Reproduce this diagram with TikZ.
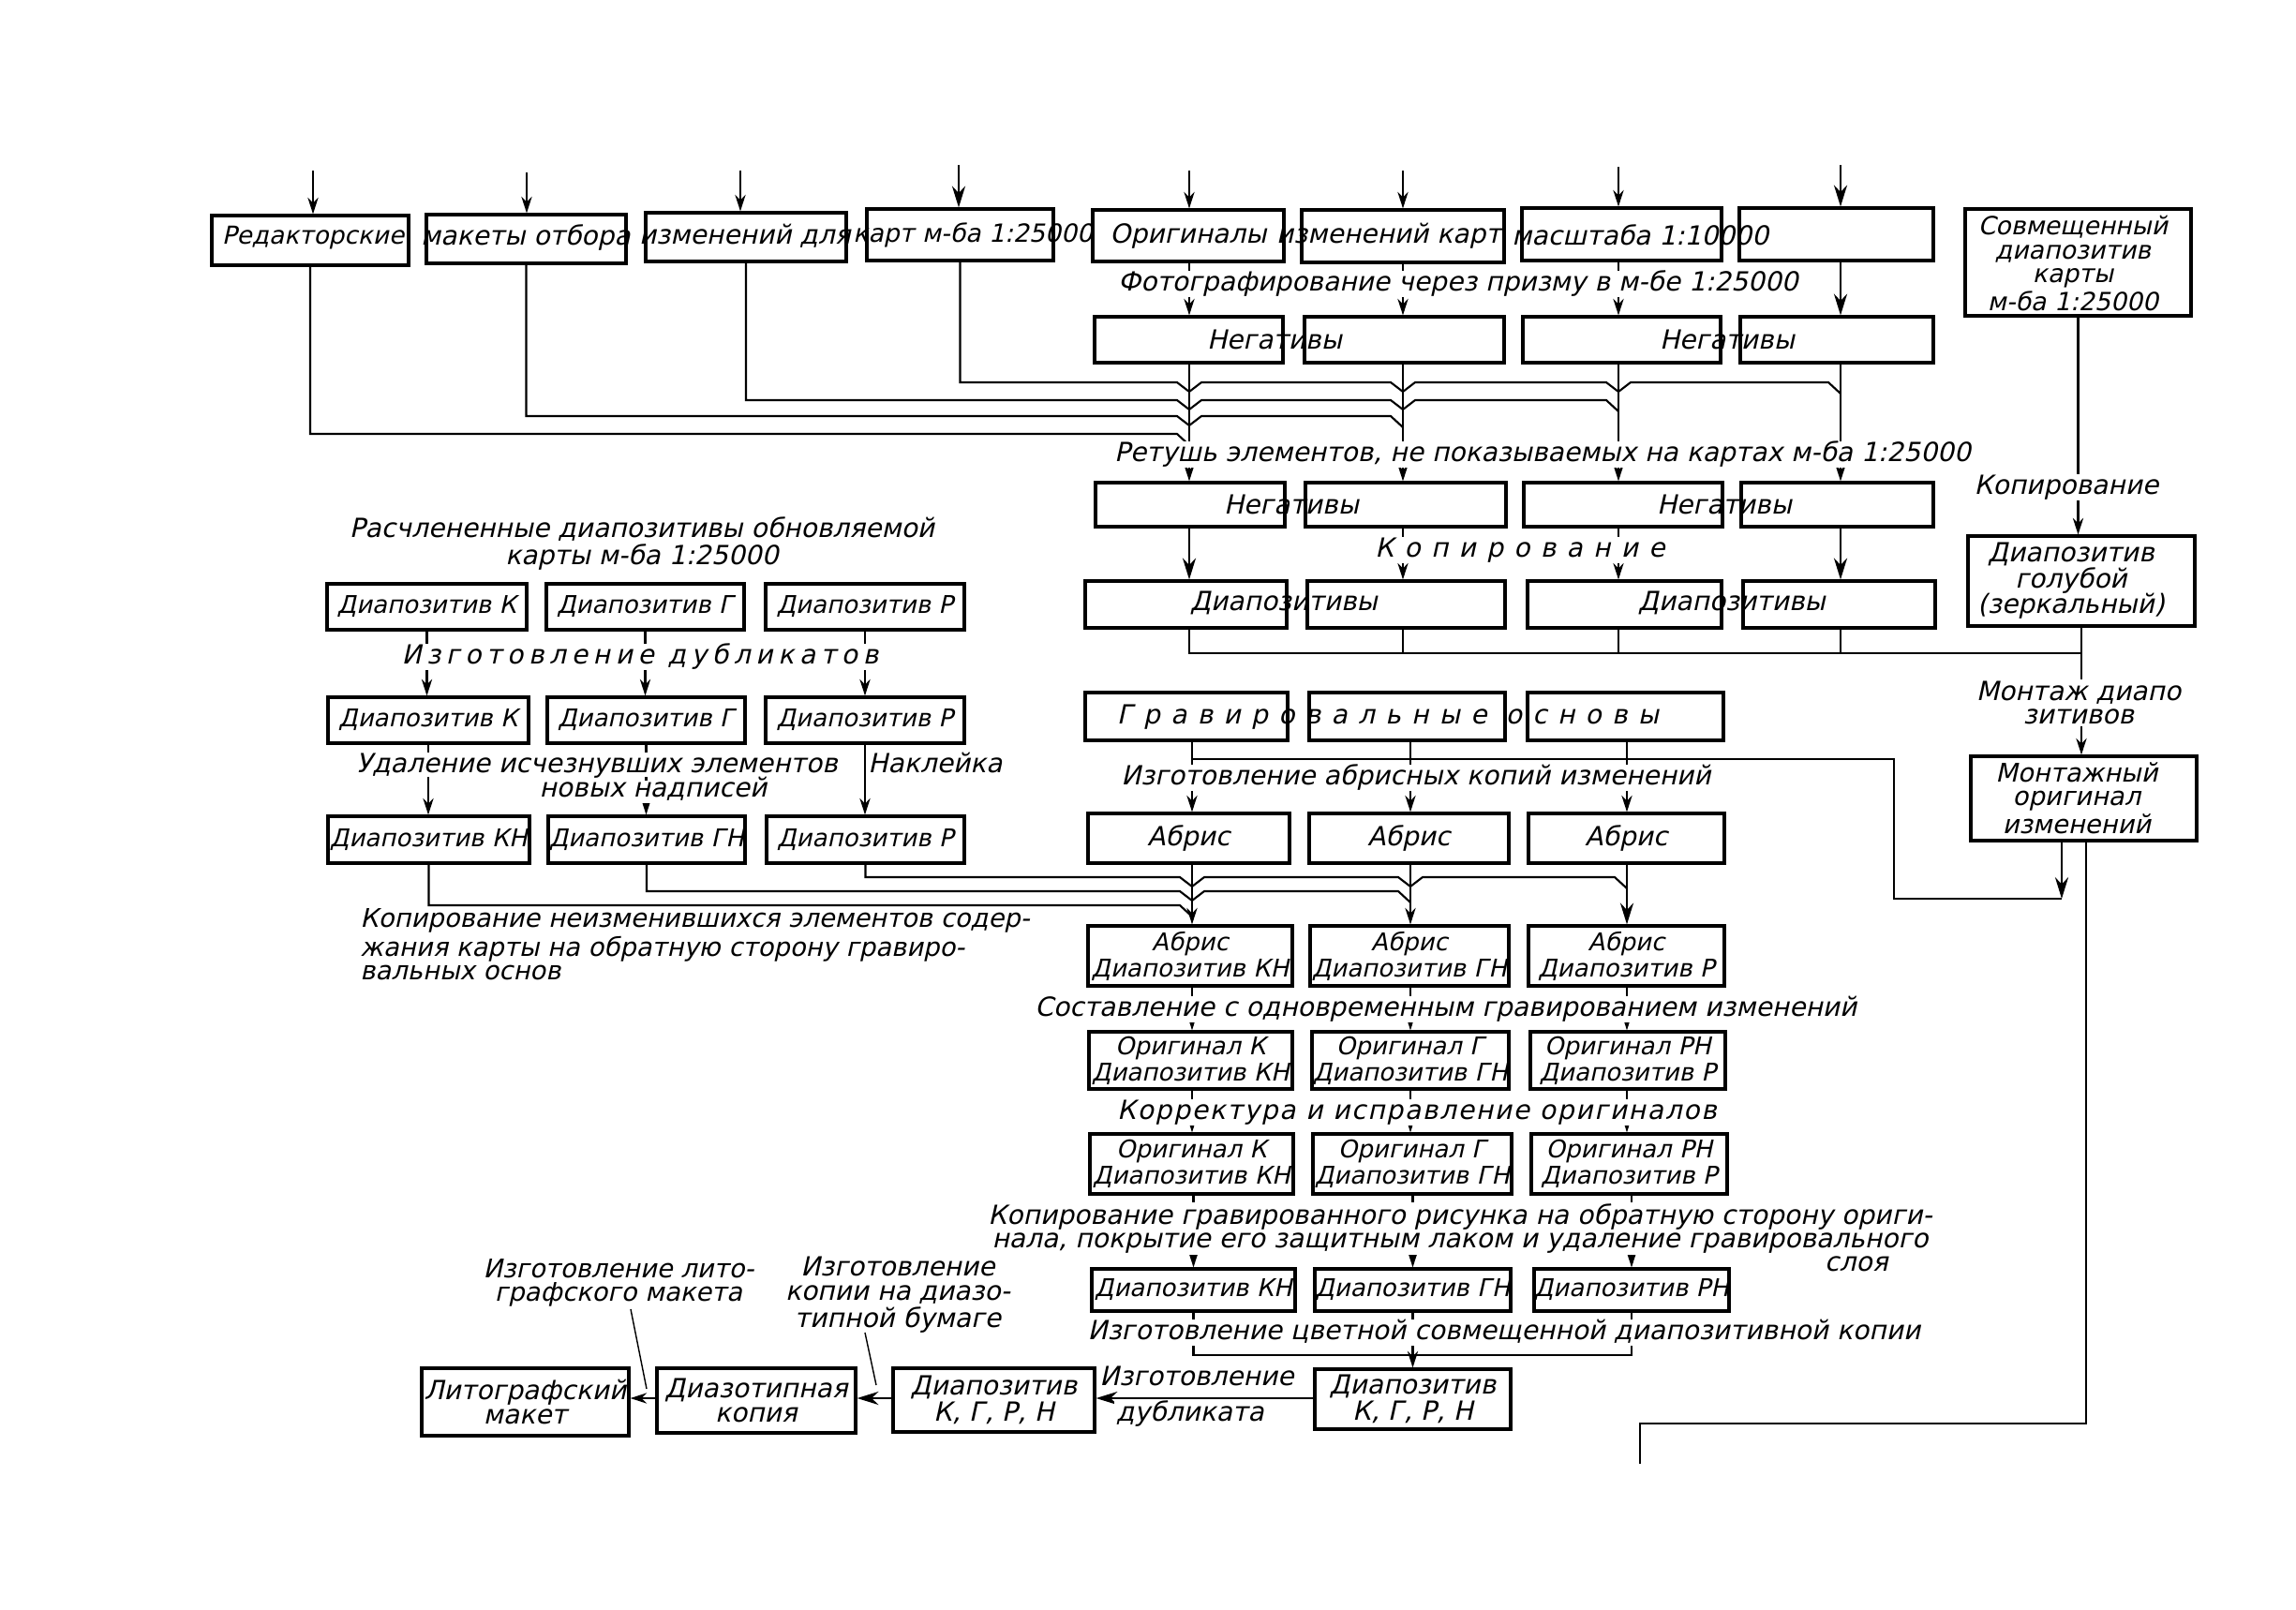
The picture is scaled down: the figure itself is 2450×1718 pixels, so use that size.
\documentclass[tikz,border=0pt]{standalone}
\usepackage{fontspec}
\newfontfamily\gost{DejaVu Sans}[FakeSlant=0.22]
\newfontfamily\gostS{DejaVu Sans}[FakeSlant=0.22,LetterSpace=40]
\newfontfamily\gostD{DejaVu Sans}[FakeSlant=0.22,LetterSpace=20]
\newfontfamily\gostK{DejaVu Sans}[FakeSlant=0.22,LetterSpace=6]
\usetikzlibrary{arrows.meta,fit}
\newcommand\mkbox[5]{\node[box, fit={(#2,#3) (#4,#5)}] (#1) {};}
\newcommand\mergeline[4]{%
  \coordinate (mtmp) at (0,#2);
  \draw[conn] (#1) -- (#1 |- mtmp) \foreach \xx in {#3} { -- (\xx-13,#2) -- (\xx,#2+10) -- (\xx+13,#2) } -- (#4-13,#2) -- (#4,#2+12);}
\newcommand\mlend[3]{%
  \coordinate (mtmp) at (0,#2);
  \draw[conn] (#1) -- (#1 |- mtmp) -- (#3-13,#2) -- (#3,#2+12);}
\begin{document}
\begin{tikzpicture}[x=0.01cm,y=-0.01cm,
  box/.style={draw, line width=0.9pt, inner sep=0pt},
  txt/.style={font=\gost\fontsize{8}{9}\selectfont, inner sep=0.5pt, align=center},
  btxt/.style={txt, font=\gost\fontsize{7.4}{6.9}\selectfont},
  lbl/.style={txt, fill=white, text height=5.6pt, text depth=1.3pt},
  conn/.style={line width=0.6pt, line join=miter},
  arr/.style={conn, -{Stealth[length=5pt,width=3.2pt]}},
  barr/.style={line width=0.8pt, -{Stealth[length=6.5pt,width=4pt]}}]
\useasboundingbox (0,0) rectangle (2450,1718);

\def\ca{1269}\def\cb{1497}\def\cc{1727}\def\cd{1964}
\def\da{1272}\def\db{1505}\def\dc{1736}
\coordinate (c1) at (\ca,0); \coordinate (c2) at (\cb,0);
\coordinate (c3) at (\cc,0); \coordinate (c4) at (\cd,0);
\coordinate (d1) at (\da,0); \coordinate (d2) at (\db,0); \coordinate (d3) at (\dc,0);

% ---------- row 1
\mkbox{B1}{226}{230}{436}{283}
\mkbox{B2}{455}{229}{668}{281}
\mkbox{B3}{689}{227}{903}{279}
\mkbox{B4}{925}{223}{1124}{278}
\mkbox{B5}{1166}{224}{1370}{279}
\mkbox{B6}{1389}{224}{1605}{280}
\mkbox{B7}{1624}{222}{1837}{278}
\mkbox{B8}{1856}{222}{2063}{278}
\mkbox{B9}{2097}{223}{2338}{337}

\node[txt, font=\gost\fontsize{7.5}{9}\selectfont] (tB1) at (334,254) {Редакторские};
\node[txt] (tB2) at (561,253) {макеты отбора};
\node[txt] (tB3) at (795,252) {изменений для};
\node[txt,anchor=west, font=\gost\fontsize{7.6}{9}\selectfont] (tB4) at (908,251) {карт м-ба 1:25000};
\node[txt] (tB5) at (1268,252) {Оригиналы};
\node[txt] (tB6) at (1482,252) {изменений карт};
\node[txt,anchor=west] (tB7) at (1611,251) {масштаба 1:10000};
\node[txt, font=\gost\fontsize{7.6}{7.2}\selectfont] (tB9) at (2212,281) {Совмещенный\\диапозитив\\карты\\м-ба 1:25000};

\coordinate (i1) at (334,182); \draw[arr] (i1) -- (i1 |- B1.north);
\coordinate (i2) at (562,184); \draw[arr] (i2) -- (i2 |- B2.north);
\coordinate (i3) at (790,182); \draw[arr] (i3) -- (i3 |- B3.north);
\coordinate (i4) at (1023,176); \draw[barr] (i4) -- (i4 |- B4.north);
\coordinate (i5) at (\ca,182); \draw[arr] (i5) -- (i5 |- B5.north);
\coordinate (i6) at (\cb,182); \draw[arr] (i6) -- (i6 |- B6.north);
\coordinate (i7) at (\cc,178); \draw[arr] (i7) -- (i7 |- B7.north);
\coordinate (i8) at (\cd,176); \draw[barr] (i8) -- (i8 |- B8.north);

% ---------- row 2 negatives
\mkbox{N1}{1168}{338}{1369}{387}
\mkbox{N2}{1392}{338}{1605}{387}
\mkbox{N3}{1625}{338}{1836}{387}
\mkbox{N4}{1857}{338}{2063}{387}
\node[txt] (tN1) at (1360,362) {Негативы};
\node[txt] (tN2) at (1843,362) {Негативы};
\draw[arr] (B5.south -| c1) -- (N1.north -| c1);
\draw[arr] (B6.south -| c2) -- (N2.north -| c2);
\draw[arr] (B7.south -| c3) -- (N3.north -| c3);
\draw[barr] (B8.south -| c4) -- (N4.north -| c4);

% ---------- row 3 negatives
\mkbox{R1}{1169}{515}{1371}{562}
\mkbox{R2}{1393}{515}{1607}{562}
\mkbox{R3}{1626}{515}{1838}{562}
\mkbox{R4}{1858}{515}{2063}{562}
\node[txt] (tR1) at (1378,538) {Негативы};
\node[txt] (tR2) at (1840,538) {Негативы};
\draw[arr] (N1.south -| c1) -- (R1.north -| c1);
\draw[arr] (N2.south -| c2) -- (R2.north -| c2);
\draw[arr] (N3.south -| c3) -- (R3.north -| c3);
\draw[arr] (N4.south -| c4) -- (R4.north -| c4);

\mergeline{B4.south}{408}{\ca,\cb,\cc}{\cd}
\mergeline{B3.south}{427}{\ca,\cb}{\cc}
\mergeline{B2.south}{444}{\ca}{\cb}
\mlend{B1.south}{463}{\ca}

% ---------- row 4 diapositives
\mkbox{D1}{1158}{620}{1373}{670}
\mkbox{D2}{1395}{620}{1606}{670}
\mkbox{D3}{1630}{620}{1837}{670}
\mkbox{D4}{1860}{620}{2065}{670}
\node[txt] (tD1) at (1370,643) {Диапозитивы};
\node[txt] (tD2) at (1848,643) {Диапозитивы};
\draw[barr] (R1.south -| c1) -- (D1.north -| c1);
\draw[arr] (R2.south -| c2) -- (D2.north -| c2);
\draw[arr] (R3.south -| c3) -- (D3.north -| c3);
\draw[barr] (R4.south -| c4) -- (D4.north -| c4);

% ---------- right column
\mkbox{DG}{2100}{572}{2342}{668}
\node[txt, font=\gost\fontsize{8}{7.8}\selectfont] (tDG) at (2210,620) {Диапозитив\\голубой\\(зеркальный)};
\mkbox{MO}{2103}{807}{2344}{897}
\node[txt, font=\gost\fontsize{7.8}{7.2}\selectfont] (tMO) at (2216,852) {Монтажный\\оригинал\\изменений};
\draw[arr] (B9.south) -- (B9.south |- DG.north);
\draw[arr] (DG.south) -- (DG.south |- MO.north);
\coordinate (hDy) at (0,697);
\draw[conn] (D1.south -| c1) |- (DG.south |- hDy);
\draw[conn] (D2.south -| c2) -- (c2 |- hDy);
\draw[conn] (D3.south -| c3) -- (c3 |- hDy);
\draw[conn] (D4.south -| c4) -- (c4 |- hDy);

% ---------- left group
\mkbox{A1}{349}{623}{562}{672}
\mkbox{A2}{583}{623}{794}{672}
\mkbox{A3}{817}{623}{1029}{672}
\mkbox{Bx1}{350}{744}{564}{793}
\mkbox{Bx2}{584}{744}{795}{793}
\mkbox{Bx3}{817}{744}{1029}{793}
\mkbox{C1}{350}{871}{565}{921}
\mkbox{C2}{585}{871}{795}{921}
\mkbox{C3}{818}{871}{1029}{921}
\node[btxt] (tA1) at (A1) {Диапозитив К};
\node[btxt] (tA2) at (A2) {Диапозитив Г};
\node[btxt] (tA3) at (A3) {Диапозитив Р};
\node[btxt] (tBx1) at (Bx1) {Диапозитив К};
\node[btxt] (tBx2) at (Bx2) {Диапозитив Г};
\node[btxt] (tBx3) at (Bx3) {Диапозитив Р};
\node[btxt] (tC1) at (C1) {Диапозитив КН};
\node[btxt] (tC2) at (C2) {Диапозитив ГН};
\node[btxt] (tC3) at (C3) {Диапозитив Р};
\draw[arr] (A1.south) -- (A1.south |- Bx1.north);
\draw[arr] (A2.south) -- (A2.south |- Bx2.north);
\draw[arr] (A3.south) -- (A3.south |- Bx3.north);
\draw[arr] (Bx1.south) -- (Bx1.south |- C1.north);
\draw[arr] (Bx2.south) -- (Bx2.south |- C2.north);
\draw[arr] (Bx3.south) -- (Bx3.south |- C3.north);
\node[txt, font=\gost\fontsize{8}{7.3}\selectfont] (lR) at (685,580) {Расчлененные диапозитивы обновляемой\\карты м-ба 1:25000};
\node[txt, align=left, anchor=west, font=\gost\fontsize{7.8}{7.3}\selectfont] (lK) at (382,1008) {Копирование неизменившихся элементов содер-\\жания карты на обратную сторону гравиро-\\вальных основ};

% ---------- engraving bases and outlines
\mkbox{G1}{1158}{739}{1374}{790}
\mkbox{G2}{1397}{739}{1606}{790}
\mkbox{G3}{1630}{739}{1839}{790}
\node[txt, font=\gostS\fontsize{8}{9}\selectfont] (tG) at (1481,765) {Гравировальные основы};
\coordinate (hG) at (2021,810); \coordinate (hGy) at (0,810);
\coordinate (mc) at (2021,959); \coordinate (mend) at (2200,959);
\draw[conn] (G1.south -| d1) |- (hG) -- (mc) -- (mend);
\draw[conn] (G2.south -| d2) -- (d2 |- hGy);
\draw[conn] (G3.south -| d3) -- (d3 |- hGy);
\draw[barr] (MO.south -| mend) -- (mend);
\coordinate (fx) at (2226,0); \coordinate (f1) at (1750,1519); \coordinate (fend) at (1750,1562);
\draw[line width=0.8pt] (MO.south -| fx) |- (f1) -- (fend);

\mkbox{Ab1}{1161}{868}{1376}{921}
\mkbox{Ab2}{1397}{868}{1610}{921}
\mkbox{Ab3}{1631}{868}{1840}{921}
\node[txt] (tAb1) at (Ab1) {Абрис};
\node[txt] (tAb2) at (Ab2) {Абрис};
\node[txt] (tAb3) at (Ab3) {Абрис};
\draw[arr] (d1 |- hGy) -- (Ab1.north -| d1);
\draw[arr] (d2 |- hGy) -- (Ab2.north -| d2);
\draw[arr] (d3 |- hGy) -- (Ab3.north -| d3);

\mkbox{AD1}{1161}{988}{1379}{1052}
\mkbox{AD2}{1398}{988}{1610}{1052}
\mkbox{AD3}{1631}{988}{1840}{1052}
\node[btxt] (tAD1) at (AD1) {Абрис\\Диапозитив КН};
\node[btxt] (tAD2) at (AD2) {Абрис\\Диапозитив ГН};
\node[btxt] (tAD3) at (AD3) {Абрис\\Диапозитив Р};
\draw[arr] (Ab1.south -| d1) -- (AD1.north -| d1);
\draw[arr] (Ab2.south -| d2) -- (AD2.north -| d2);
\draw[barr] (Ab3.south -| d3) -- (AD3.north -| d3);
\mergeline{C3.south}{936}{\da,\db}{\dc}
\mergeline{C2.south}{951}{\da}{\db}
\mlend{C1.south}{966}{\da}

\mkbox{O1}{1162}{1101}{1379}{1162}
\mkbox{O2}{1400}{1101}{1610}{1162}
\mkbox{O3}{1633}{1101}{1841}{1162}
\node[btxt] (tO1) at (O1) {Оригинал К\\Диапозитив КН};
\node[btxt] (tO2) at (O2) {Оригинал Г\\Диапозитив ГН};
\node[btxt] (tO3) at (O3) {Оригинал РН\\Диапозитив Р};
\draw[arr] (AD1.south -| d1) -- (O1.north -| d1);
\draw[arr] (AD2.south -| d2) -- (O2.north -| d2);
\draw[arr] (AD3.south -| d3) -- (O3.north -| d3);

\mkbox{P1}{1163}{1210}{1380}{1274}
\mkbox{P2}{1401}{1210}{1613}{1274}
\mkbox{P3}{1634}{1210}{1843}{1274}
\node[btxt] (tP1) at (P1) {Оригинал К\\Диапозитив КН};
\node[btxt] (tP2) at (P2) {Оригинал Г\\Диапозитив ГН};
\node[btxt] (tP3) at (P3) {Оригинал РН\\Диапозитив Р};
\draw[arr] (O1.south -| d1) -- (P1.north -| d1);
\draw[arr] (O2.south -| d2) -- (P2.north -| d2);
\draw[arr] (O3.south -| d3) -- (P3.north -| d3);

\mkbox{Q1}{1165}{1354}{1382}{1399}
\mkbox{Q2}{1403}{1354}{1612}{1399}
\mkbox{Q3}{1637}{1354}{1845}{1399}
\node[btxt] (tQ1) at (Q1) {Диапозитив КН};
\node[btxt] (tQ2) at (Q2) {Диапозитив ГН};
\node[btxt] (tQ3) at (Q3) {Диапозитив РН};
\draw[arr] (Q1.north |- P1.south) -- (Q1.north);
\draw[arr] (Q2.north |- P2.south) -- (Q2.north);
\draw[arr] (Q3.north |- P3.south) -- (Q3.north);

% ---------- bottom row
\mkbox{K2}{1403}{1461}{1612}{1525}
\mkbox{K1}{953}{1460}{1168}{1528}
\mkbox{DZ}{701}{1460}{913}{1529}
\mkbox{LM}{450}{1460}{671}{1532}
\node[txt, font=\gost\fontsize{8}{7}\selectfont] (tK2) at (K2) {Диапозитив\\К, Г, Р, Н};
\node[txt, font=\gost\fontsize{8}{7}\selectfont] (tK1) at (K1) {Диапозитив\\К, Г, Р, Н};
\node[txt, font=\gost\fontsize{8}{7.2}\selectfont] (tDZ) at (DZ) {Диазотипная\\копия};
\node[txt, font=\gost\fontsize{8}{7.5}\selectfont] (tLM) at (LM) {Литографский\\макет};
\coordinate (hQy) at (0,1446);
\draw[conn] (Q1.south) |- (Q3.south |- hQy) -- (Q3.south);
\draw[arr] (Q2.south) -- (Q2.south |- K2.north);
\coordinate (yA) at (0,1492);
\draw[barr] (K2.west |- yA) -- (K1.east |- yA);
\draw[barr] (K1.west |- yA) -- (DZ.east |- yA);
\draw[arr] (DZ.west |- yA) -- (LM.east |- yA);
\coordinate (ld1a) at (673,1397); \coordinate (ld1b) at (690,1482);
\coordinate (ld2a) at (923,1422); \coordinate (ld2b) at (935,1478);
\draw[line width=0.4pt] (ld1a) -- (ld1b);
\draw[line width=0.4pt] (ld2a) -- (ld2b);
\node[txt, font=\gost\fontsize{7.8}{7.3}\selectfont] (lLit) at (660,1369) {Изготовление лито-\\графского макета};
\node[txt, font=\gost\fontsize{8}{7.3}\selectfont] (lDz) at (958,1382) {Изготовление\\копии на диазо-\\типной бумаге};

% ---------- labels over connectors
\node[lbl] (l1) at (1556,303) {Фотографирование через призму в м-бе 1:25000};
\node[lbl] (l2) at (1646,485) {Ретушь элементов, не показываемых на картах м-ба 1:25000};
\node[lbl, font=\gostS\fontsize{8}{9}\selectfont] (l3) at (1622,587) {Копирование};
\node[lbl] (l4) at (2205,520) {Копирование};
\node[txt, fill=white, font=\gost\fontsize{8}{7.1}\selectfont] (l5) at (2218,750) {Монтаж диапо\\зитивов};
\node[lbl, font=\gostD\fontsize{8}{9}\selectfont] (l7) at (683,701) {Изготовление дубликатов};
\node[lbl, text depth=0.8pt] (l8) at (637,816) {Удаление исчезнувших элементов};
\node[lbl, text depth=0.8pt] (l9) at (998,816) {Наклейка};
\node[lbl, text height=4.6pt] (l10) at (697,845) {новых надписей};
\node[lbl] (l13) at (1511,830) {Изготовление абрисных копий изменений};
\node[lbl] (l14) at (1543,1077) {Составление с одновременным гравированием изменений};
\node[lbl, font=\gostK\fontsize{8}{9}\selectfont] (l15) at (1512,1187) {Корректура и исправление оригиналов};
\node[txt, fill=white, font=\gost\fontsize{8}{6.9}\selectfont] (l16) at (1558,1311) {Копирование гравированного рисунка на обратную сторону ориги-\\нала, покрытие его защитным лаком и удаление гравировального};
\node[txt] (l17) at (1981,1349) {слоя};
\node[lbl] (l18) at (1605,1422) {Изготовление цветной совмещенной диапозитивной копии};
\node[lbl] (l19) at (1277,1471) {Изготовление};
\node[lbl] (l20) at (1270,1509) {дубликата};
\end{tikzpicture}
\end{document}
